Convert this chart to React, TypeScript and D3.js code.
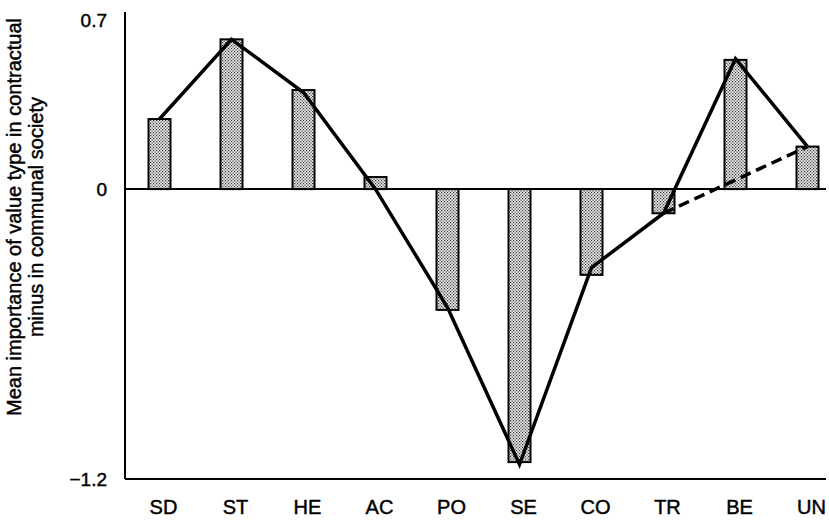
import React from "react";
import * as d3 from "d3";

const categories = ["SD", "ST", "HE", "AC", "PO", "SE", "CO", "TR", "BE", "UN"];
// bar heights (mean difference, contractual minus communal)
const barValues = [0.29, 0.62, 0.41, 0.05, -0.5, -1.13, -0.355, -0.1, 0.535, 0.176];
// solid profile line
const lineValues = [0.29, 0.62, 0.4, 0.0, -0.49, -1.14, -0.325, -0.1, 0.54, 0.176];
// dashed shortcut between two categories
const dashedCategories = ["TR", "UN"];
const yTicks = [0.7, 0, -1.2];
const yTitle = ["Mean importance of value type in contractual", "minus in communal society"];

const W = 829;
const H = 520;
const FONT = "'Liberation Sans', Arial, Helvetica, sans-serif";

export default function App() {
  const left = 125;
  const right = 826;

  const y = d3.scaleLinear().domain([-1.2, 0.7]).range([479, 20]);
  const x = d3.scalePoint<string>().domain(categories).range([159.5, 807.5]);
  const barW = 22;

  const line = d3
    .line<number>()
    .x((_, i) => x(categories[i]) as number)
    .y((d) => y(d));

  const dashed = d3
    .line<string>()
    .x((c) => x(c) as number)
    .y((c) => y(lineValues[categories.indexOf(c)]));

  // scanned print looks heavier than plain regular weight
  const ink = { fill: "#000", stroke: "#000", strokeWidth: 0.45 };

  return (
    <svg
      width={W}
      height={H}
      style={{ position: "absolute", left: 0, top: 0, background: "#fff" }}
      fontFamily={FONT}
    >
      <defs>
        <pattern id="stipple" width="3" height="3" patternUnits="userSpaceOnUse">
          <rect width="3" height="3" fill="#eeeeee" />
          <rect x="0" y="0" width="1.2" height="1.2" fill="#333" />
          <rect x="1.5" y="1.5" width="1.2" height="1.2" fill="#333" />
        </pattern>
      </defs>

      {/* axes */}
      <line x1={left} x2={left} y1={12} y2={y(-1.2)} stroke="#000" strokeWidth={2} />
      <line x1={left} x2={right} y1={y(-1.2)} y2={y(-1.2)} stroke="#000" strokeWidth={2} />

      {/* bars */}
      {categories.map((c, i) => {
        const v = barValues[i];
        const y0 = y(Math.max(0, v));
        const y1 = y(Math.min(0, v));
        return (
          <rect
            key={c}
            x={(x(c) as number) - barW / 2}
            y={y0}
            width={barW}
            height={y1 - y0}
            fill="url(#stipple)"
            stroke="#000"
            strokeWidth={2}
          />
        );
      })}

      {/* zero line */}
      <line x1={left} x2={right} y1={y(0)} y2={y(0)} stroke="#000" strokeWidth={2} />

      {/* profile lines */}
      <path d={line(lineValues) || ""} fill="none" stroke="#000" strokeWidth={3.5} />
      <path
        d={dashed(dashedCategories) || ""}
        fill="none"
        stroke="#000"
        strokeWidth={3.5}
        strokeDasharray="11 6"
      />

      {/* y tick labels */}
      {yTicks.map((t) => (
        <text key={t} x={107} y={y(t)} dy="0.35em" textAnchor="end" fontSize={19} {...ink}>
          {t < 0 ? "\u2212" + Math.abs(t).toString() : t.toString()}
        </text>
      ))}

      {/* category labels */}
      {categories.map((c) => (
        <text
          key={c}
          x={(x(c) as number) + 4}
          y={507}
          dy="0.35em"
          textAnchor="middle"
          fontSize={20}
          {...ink}
        >
          {c}
        </text>
      ))}

      {/* y axis title */}
      <g transform="translate(0,217) rotate(-90)">
        {yTitle.map((s, i) => (
          <text key={i} x={0} y={21 + i * 22} textAnchor="middle" fontSize={20} {...ink}>
            {s}
          </text>
        ))}
      </g>
    </svg>
  );
}
